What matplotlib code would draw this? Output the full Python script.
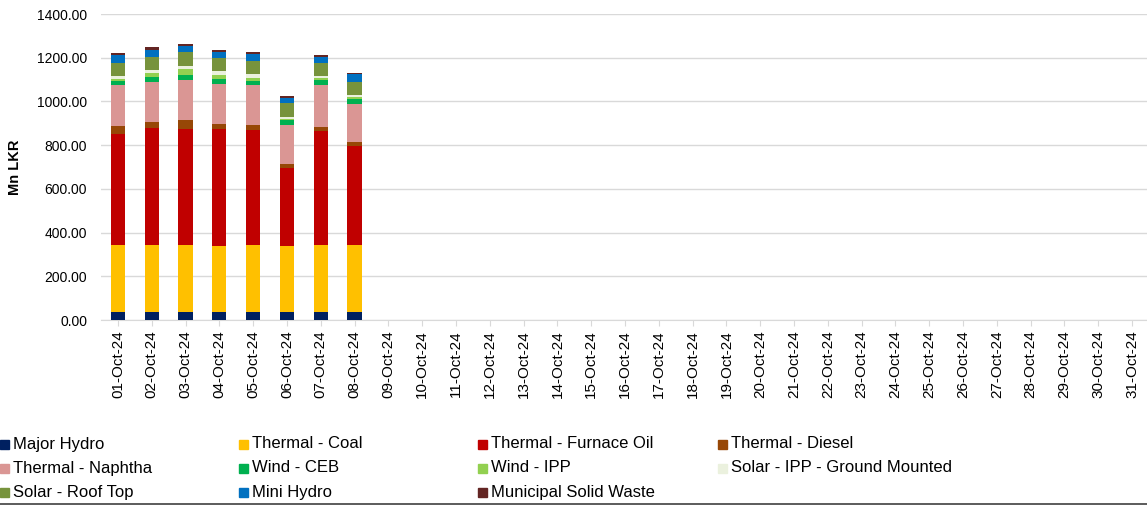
import numpy as np
import matplotlib.pyplot as plt
from matplotlib.patches import Rectangle

plt.rcParams['font.family'] = ['Liberation Sans', 'DejaVu Sans']

# dates (01-Oct-24 .. 31-Oct-24)
dates = ['%02d-Oct-24' % d for d in range(1, 32)]

# values in Mn LKR for the first 8 days, rest empty
major_hydro = [38, 38, 38, 38, 38, 38, 38, 38]
coal = [307, 307, 304, 299, 304, 301, 307, 304]
furnace_oil = [506, 532, 530, 535, 529, 356, 518, 453]
diesel = [37, 27, 41, 23, 21, 19, 20, 21]
naphtha = [188, 186, 187, 187, 183, 178, 192, 174]
wind_ceb = [18, 20, 21, 21, 19, 23, 21, 21]
wind_ipp = [8, 21, 29, 20, 15, 4, 9, 8]
solar_ground = [15, 12, 14, 15, 15, 12, 12, 11]
solar_roof = [61, 62, 61, 61, 61, 62, 59, 61]
mini_hydro = [33, 30, 27, 26, 30, 21, 27, 33]
msw = [12, 14, 11, 11, 11, 12, 9, 6]

series = [
    ('Major Hydro', major_hydro, '#002060'),
    ('Thermal - Coal', coal, '#FFC000'),
    ('Thermal - Furnace Oil', furnace_oil, '#C00000'),
    ('Thermal - Diesel', diesel, '#974706'),
    ('Thermal - Naphtha', naphtha, '#DA9694'),
    ('Wind - CEB', wind_ceb, '#00B050'),
    ('Wind - IPP', wind_ipp, '#92D050'),
    ('Solar - IPP - Ground Mounted', solar_ground, '#EBF1DE'),
    ('Solar - Roof Top', solar_roof, '#77933C'),
    ('Mini Hydro', mini_hydro, '#0070C0'),
    ('Municipal Solid Waste', msw, '#632523'),
]

W, H = 1147, 507
fig = plt.figure(figsize=(W / 100, H / 100), dpi=100)
ax = fig.add_axes([101 / W, 1 - 320 / H, 1048 / W, 306 / H])

x = np.arange(len(dates))
bottom = np.zeros(len(dates))
for name, vals, col in series:
    v = np.zeros(len(dates))
    v[:len(vals)] = vals
    ax.bar(x, v, 0.42, bottom=bottom, color=col, label=name, zorder=3)
    bottom += v

ax.set_xlim(-0.5, len(dates) - 0.5)
ax.set_ylim(0, 1400)
yt = np.arange(0, 1401, 200)
ax.set_yticks(yt)
ax.set_yticklabels(['%.2f' % t for t in yt], fontsize=10)
ax.set_xticks(x)
ax.set_xticklabels(dates, rotation=90, fontsize=11)
ax.tick_params(axis='y', length=0, pad=10)
ax.tick_params(axis='x', length=4, color='#d9d9d9')
ax.grid(axis='y', color='#d9d9d9', linewidth=1, zorder=0)
for s in ['top', 'right', 'left']:
    ax.spines[s].set_visible(False)
ax.spines['bottom'].set_color('#d9d9d9')
ax.set_ylabel('Mn LKR', fontsize=10.5, fontweight='bold')
ax.yaxis.set_label_coords(-79 / 1048, 0.5)

# legend, row by row in 4 columns (pixel layout)
col_x = [0, 239, 478, 718]
row_y = [444, 468, 492]
for i, (name, vals, col) in enumerate(series):
    cx = col_x[i % 4]
    cy = row_y[i // 4]
    fig.add_artist(Rectangle((cx / W, 1 - (cy + 4.5) / H), 9 / W, 9 / H,
                             transform=fig.transFigure, color=col))
    fig.text((cx + 13) / W, 1 - cy / H, name, fontsize=12, va='center', ha='left')

fig.add_artist(plt.Line2D([0, 1], [1 - 504 / H, 1 - 504 / H], color='#404040', linewidth=1.2))

plt.savefig('out.png')
